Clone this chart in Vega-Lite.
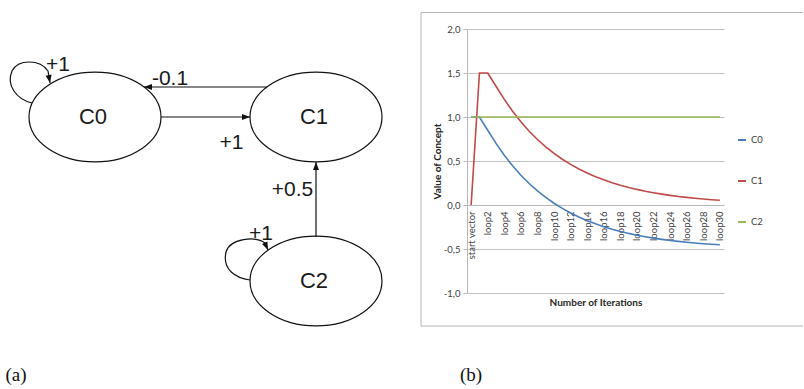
{
  "$schema": "https://vega.github.io/schema/vega-lite/v6.json",
  "padding": {"left": 0, "top": 12, "right": 0, "bottom": 0},
  "background": "white",
  "bounds": "flush",
  "spacing": 47,
  "config": {"view": {"stroke": null}, "axisX": {"labelOverlap": false, "labelFlush": false}},
  "hconcat": [
    {
      "width": 420,
      "height": 360,
      "view": {"fill": "white", "stroke": null},
      "layer": [
        {
          "data": {"values": [{}]},
          "mark": {"type": "rule", "color": "#b4b4b4", "strokeWidth": 1},
          "encoding": {
            "x": {"datum": 421, "type": "quantitative", "scale": {"domain": [0, 420], "nice": false, "zero": false}, "axis": null},
            "x2": {"datum": 803},
            "y": {"datum": -16.5, "type": "quantitative", "scale": {"domain": [0, 360], "reverse": true, "nice": false, "zero": false}, "axis": null}
          }
        },
        {
          "data": {"values": [{}]},
          "mark": {"type": "rule", "color": "#b4b4b4", "strokeWidth": 1},
          "encoding": {
            "x": {"datum": 421, "type": "quantitative", "axis": null},
            "x2": {"datum": 803},
            "y": {"datum": 297, "type": "quantitative", "axis": null}
          }
        },
        {
          "data": {"values": [{}]},
          "mark": {"type": "rule", "color": "#b4b4b4", "strokeWidth": 1},
          "encoding": {
            "x": {"datum": 421, "type": "quantitative", "axis": null},
            "y": {"datum": -16.5, "type": "quantitative", "axis": null},
            "y2": {"datum": 297}
          }
        },
        {
          "data": {"values": [
            {"id": "C0", "x": 95, "y": 88},
            {"id": "C1", "x": 316, "y": 88},
            {"id": "C2", "x": 316, "y": 252}
          ]},
          "mark": {"type": "point", "shape": "M 1 0 C 1 0.3756 0.5523 0.68 0 0.68 C -0.5523 0.68 -1 0.3756 -1 0 C -1 -0.3756 -0.5523 -0.68 0 -0.68 C 0.5523 -0.68 1 -0.3756 1 0 Z", "size": 17424, "filled": true, "fill": "white", "stroke": "#111111", "strokeWidth": 1.2, "opacity": 1},
          "encoding": {"x": {"field": "x", "type": "quantitative", "axis": null}, "y": {"field": "y", "type": "quantitative", "axis": null}}
        },
        {
          "data": {"values": [
            {"id": "C0", "x": 95, "y": 88},
            {"id": "C1", "x": 316, "y": 88},
            {"id": "C2", "x": 316, "y": 252}
          ]},
          "mark": {"type": "text", "font": "Liberation Sans", "fontSize": 22, "color": "#1a1a1a", "align": "center", "baseline": "middle", "dx": -2},
          "encoding": {"x": {"field": "x", "type": "quantitative", "axis": null}, "y": {"field": "y", "type": "quantitative", "axis": null}, "text": {"field": "id"}}
        },
        {
          "data": {"values": [
            {"source": "C1", "target": "C0", "weight": "-0.1", "x": 267, "y": 58, "x2": 144, "y2": 58, "lx": 170, "ly": 49.5},
            {"source": "C0", "target": "C1", "weight": "+1", "x": 161, "y": 88, "x2": 250, "y2": 88, "lx": 231.5, "ly": 113.5},
            {"source": "C2", "target": "C1", "weight": "+0.5", "x": 316, "y": 208, "x2": 316, "y2": 133, "lx": 292.5, "ly": 161}
          ]},
          "layer": [
            {
              "mark": {"type": "rule", "color": "#111111", "strokeWidth": 1.2},
              "encoding": {"x": {"field": "x", "type": "quantitative", "axis": null}, "y": {"field": "y", "type": "quantitative", "axis": null}, "x2": {"field": "x2"}, "y2": {"field": "y2"}}
            },
            {
              "transform": [{"filter": "datum.source == 'C1'"}],
              "mark": {"type": "point", "shape": "M 0 0 L -2 -0.75 L -2 0.75 Z", "size": 64, "filled": true, "color": "#111111", "opacity": 1, "angle": 180},
              "encoding": {"x": {"field": "x2", "type": "quantitative", "axis": null}, "y": {"field": "y2", "type": "quantitative", "axis": null}}
            },
            {
              "transform": [{"filter": "datum.source == 'C0'"}],
              "mark": {"type": "point", "shape": "M 0 0 L -2 -0.75 L -2 0.75 Z", "size": 64, "filled": true, "color": "#111111", "opacity": 1, "angle": 0},
              "encoding": {"x": {"field": "x2", "type": "quantitative", "axis": null}, "y": {"field": "y2", "type": "quantitative", "axis": null}}
            },
            {
              "transform": [{"filter": "datum.source == 'C2'"}],
              "mark": {"type": "point", "shape": "M 0 0 L -2 -0.75 L -2 0.75 Z", "size": 64, "filled": true, "color": "#111111", "opacity": 1, "angle": 270},
              "encoding": {"x": {"field": "x2", "type": "quantitative", "axis": null}, "y": {"field": "y2", "type": "quantitative", "axis": null}}
            },
            {
              "mark": {"type": "text", "font": "Liberation Sans", "fontSize": 21, "color": "#1a1a1a", "align": "center", "baseline": "middle"},
              "encoding": {"x": {"field": "lx", "type": "quantitative", "axis": null}, "y": {"field": "ly", "type": "quantitative", "axis": null}, "text": {"field": "weight"}}
            }
          ]
        },
        {
          "data": {"values": [
            {"node": "C0", "weight": "+1", "x": 50, "y": 54, "lx": 58, "ly": 36},
            {"node": "C2", "weight": "+1", "x": 268, "y": 221, "lx": 261, "ly": 204.5}
          ]},
          "layer": [
            {
              "transform": [{"filter": "datum.node == 'C0'"}],
              "mark": {"type": "point", "shape": "M -0.9 1 C -1.7 0.8 -2.2 0.1 -1.9 -0.6 C -1.6 -1.2 -0.5 -1.2 -0.1 -0.6 L 0 0", "size": 1600, "filled": false, "color": "#111111", "strokeWidth": 1.2, "opacity": 1},
              "encoding": {"x": {"field": "x", "type": "quantitative", "axis": null}, "y": {"field": "y", "type": "quantitative", "axis": null}}
            },
            {
              "transform": [{"filter": "datum.node == 'C0'"}],
              "mark": {"type": "point", "shape": "M 0 0 L -2 -0.75 L -2 0.75 Z", "size": 64, "filled": true, "color": "#111111", "opacity": 1, "angle": 80},
              "encoding": {"x": {"field": "x", "type": "quantitative", "axis": null}, "y": {"field": "y", "type": "quantitative", "axis": null}}
            },
            {
              "transform": [{"filter": "datum.node == 'C2'"}],
              "mark": {"type": "point", "shape": "M -0.9 1.5 C -1.6 1.4 -2.3 1.0 -2.1 0.1 C -1.9 -0.6 -0.6 -0.7 -0.15 -0.35 L 0 0", "size": 1600, "filled": false, "color": "#111111", "strokeWidth": 1.2, "opacity": 1},
              "encoding": {"x": {"field": "x", "type": "quantitative", "axis": null}, "y": {"field": "y", "type": "quantitative", "axis": null}}
            },
            {
              "transform": [{"filter": "datum.node == 'C2'"}],
              "mark": {"type": "point", "shape": "M 0 0 L -2 -0.75 L -2 0.75 Z", "size": 64, "filled": true, "color": "#111111", "opacity": 1, "angle": 66},
              "encoding": {"x": {"field": "x", "type": "quantitative", "axis": null}, "y": {"field": "y", "type": "quantitative", "axis": null}}
            },
            {
              "mark": {"type": "text", "font": "Liberation Sans", "fontSize": 21, "color": "#1a1a1a", "align": "center", "baseline": "middle"},
              "encoding": {"x": {"field": "lx", "type": "quantitative", "axis": null}, "y": {"field": "ly", "type": "quantitative", "axis": null}, "text": {"field": "weight"}}
            }
          ]
        },
        {
          "data": {"values": [
            {"panel": "(a)", "x": 16, "y": 346},
            {"panel": "(b)", "x": 471, "y": 346}
          ]},
          "mark": {"type": "text", "font": "Liberation Serif", "fontSize": 19, "color": "#111111", "align": "center", "baseline": "middle"},
          "encoding": {"x": {"field": "x", "type": "quantitative", "axis": null}, "y": {"field": "y", "type": "quantitative", "axis": null}, "text": {"field": "panel"}}
        }
      ]
    },
    {
      "width": 257,
      "height": 264,
      "data": {"values": [
        {"step": 0, "iteration": "start vector", "C0": 1, "C1": 0, "C2": 1},
        {"step": 1, "iteration": "loop1", "C0": 1, "C1": 1.5, "C2": 1},
        {"step": 2, "iteration": "loop2", "C0": 0.85, "C1": 1.5, "C2": 1},
        {"step": 3, "iteration": "loop3", "C0": 0.7, "C1": 1.35, "C2": 1},
        {"step": 4, "iteration": "loop4", "C0": 0.565, "C1": 1.2, "C2": 1},
        {"step": 5, "iteration": "loop5", "C0": 0.445, "C1": 1.065, "C2": 1},
        {"step": 6, "iteration": "loop6", "C0": 0.3385, "C1": 0.945, "C2": 1},
        {"step": 7, "iteration": "loop7", "C0": 0.244, "C1": 0.8385, "C2": 1},
        {"step": 8, "iteration": "loop8", "C0": 0.1602, "C1": 0.744, "C2": 1},
        {"step": 9, "iteration": "loop9", "C0": 0.0858, "C1": 0.6602, "C2": 1},
        {"step": 10, "iteration": "loop10", "C0": 0.0197, "C1": 0.5858, "C2": 1},
        {"step": 11, "iteration": "loop11", "C0": -0.0388, "C1": 0.5197, "C2": 1},
        {"step": 12, "iteration": "loop12", "C0": -0.0908, "C1": 0.4612, "C2": 1},
        {"step": 13, "iteration": "loop13", "C0": -0.1369, "C1": 0.4092, "C2": 1},
        {"step": 14, "iteration": "loop14", "C0": -0.1778, "C1": 0.3631, "C2": 1},
        {"step": 15, "iteration": "loop15", "C0": -0.2142, "C1": 0.3222, "C2": 1},
        {"step": 16, "iteration": "loop16", "C0": -0.2464, "C1": 0.2858, "C2": 1},
        {"step": 17, "iteration": "loop17", "C0": -0.275, "C1": 0.2536, "C2": 1},
        {"step": 18, "iteration": "loop18", "C0": -0.3003, "C1": 0.225, "C2": 1},
        {"step": 19, "iteration": "loop19", "C0": -0.3228, "C1": 0.1997, "C2": 1},
        {"step": 20, "iteration": "loop20", "C0": -0.3428, "C1": 0.1772, "C2": 1},
        {"step": 21, "iteration": "loop21", "C0": -0.3605, "C1": 0.1572, "C2": 1},
        {"step": 22, "iteration": "loop22", "C0": -0.3762, "C1": 0.1395, "C2": 1},
        {"step": 23, "iteration": "loop23", "C0": -0.3902, "C1": 0.1238, "C2": 1},
        {"step": 24, "iteration": "loop24", "C0": -0.4026, "C1": 0.1098, "C2": 1},
        {"step": 25, "iteration": "loop25", "C0": -0.4135, "C1": 0.0974, "C2": 1},
        {"step": 26, "iteration": "loop26", "C0": -0.4233, "C1": 0.0865, "C2": 1},
        {"step": 27, "iteration": "loop27", "C0": -0.4319, "C1": 0.0767, "C2": 1},
        {"step": 28, "iteration": "loop28", "C0": -0.4396, "C1": 0.0681, "C2": 1},
        {"step": 29, "iteration": "loop29", "C0": -0.4464, "C1": 0.0604, "C2": 1},
        {"step": 30, "iteration": "loop30", "C0": -0.4524, "C1": 0.0536, "C2": 1}
      ]},
      "transform": [{"fold": ["C0", "C1", "C2"], "as": ["concept", "value"]}],
      "mark": {"type": "line", "strokeWidth": 1.6},
      "encoding": {
        "x": {
          "field": "step", "type": "quantitative",
          "scale": {"domain": [-0.5, 30.5], "nice": false, "zero": false},
          "axis": {
            "title": "Number of Iterations",
            "values": [0, 2, 4, 6, 8, 10, 12, 14, 16, 18, 20, 22, 24, 26, 28, 30],
            "labelExpr": "datum.value == 0 ? 'start vector' : 'loop' + datum.value",
            "labelAngle": -90, "labelFlush": false, "labelOverlap": false, "labelBound": false,
            "offset": -88, "grid": false, "ticks": false,
            "domainColor": "#b8b8b8", "labelPadding": 6,
            "labelFont": "Lato", "labelFontSize": 9.5, "labelColor": "#404040",
            "titleFont": "Lato", "titleFontSize": 10, "titleFontWeight": "bold", "titleColor": "#262626",
            "titleY": 97, "titleBaseline": "middle"
          }
        },
        "y": {
          "field": "value", "type": "quantitative",
          "scale": {"domain": [-1, 2], "nice": false, "zero": false},
          "axis": {
            "title": "Value of Concept",
            "values": [-1, -0.5, 0, 0.5, 1, 1.5, 2],
            "labelExpr": "replace(replace(format(datum.value, '.1f'), '.', ','), '−', '-')",
            "grid": true, "gridColor": "#c0c0c0",
            "domainColor": "#b8b8b8", "tickColor": "#b8b8b8", "tickSize": 4,
            "labelFont": "Lato", "labelFontSize": 9.5, "labelColor": "#404040", "labelPadding": 3,
            "titleFont": "Lato", "titleFontSize": 10, "titleFontWeight": "bold", "titleColor": "#262626",
            "titlePadding": 1
          }
        },
        "color": {
          "field": "concept", "type": "nominal",
          "scale": {"domain": ["C0", "C1", "C2"], "range": ["#4a7ebb", "#be4b48", "#98b954"]},
          "legend": {
            "title": null, "orient": "none", "direction": "vertical",
            "legendX": 737, "legendY": 106,
            "symbolType": "stroke", "symbolSize": 64, "symbolStrokeWidth": 2,
            "labelFont": "Lato", "labelFontSize": 9.5, "labelColor": "#404040",
            "rowPadding": 31, "labelOffset": 4
          }
        }
      }
    }
  ]
}
